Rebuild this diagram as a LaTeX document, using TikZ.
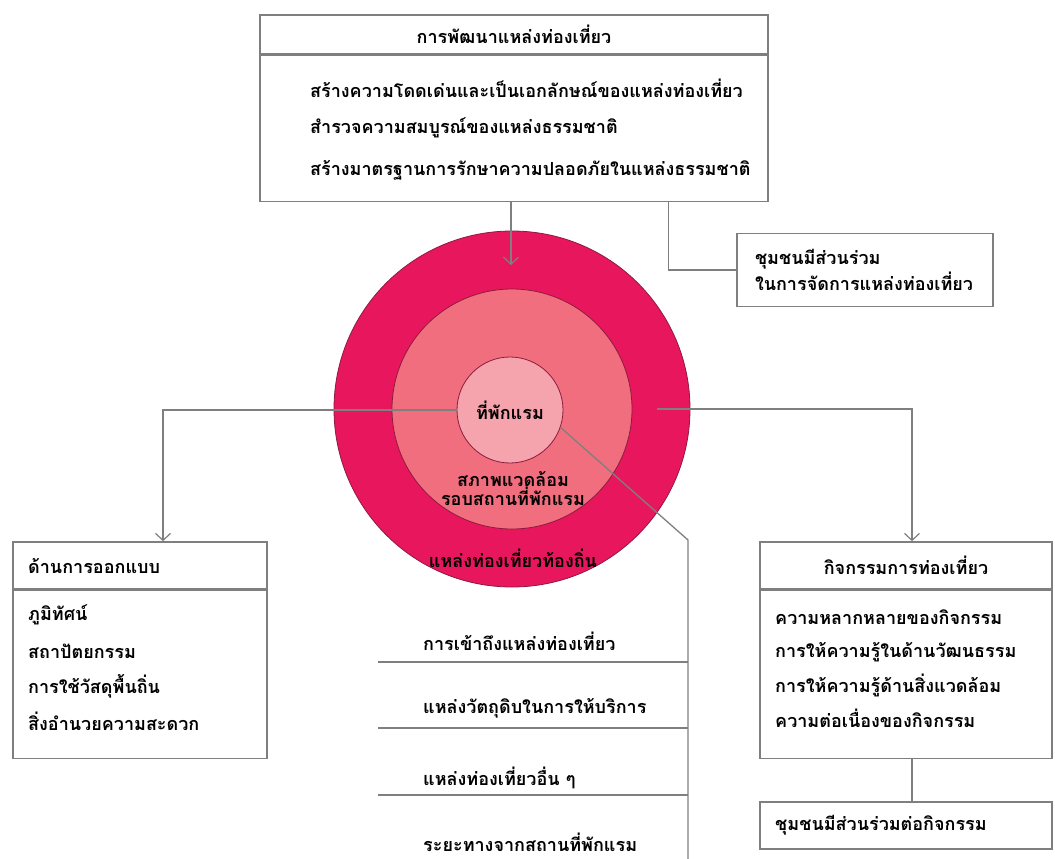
\documentclass[tikz,border=0pt]{standalone}
\usepackage{fontspec}
\newfontfamily\thaifont[Script=Thai]{Loma}
\usetikzlibrary{arrows.meta}

\definecolor{ringout}{HTML}{E8175D}
\definecolor{ringmid}{HTML}{F06E7D}
\definecolor{ringin}{HTML}{F5A3AC}
\definecolor{ringline}{HTML}{8E1A3E}
\definecolor{boxgray}{HTML}{7F7F7F}

\begin{document}
\begin{tikzpicture}[x=1pt, y=-1pt]
\tikzset{ >={Straight Barb[length=7pt, width=15pt, line width=1.2pt]},
  every node/.style={font=\thaifont\bfseries\fontsize{18}{20}\selectfont, inner sep=0pt},
  box/.style={draw=boxgray, line width=1.6pt, rectangle},
  item/.style={anchor=west},
  conn/.style={draw=boxgray, line width=1.3pt},
  ring/.style={circle, draw=ringline, line width=0.8pt},
}

\useasboundingbox (0,0) rectangle (1055,859);

% top box
\node [box, minimum width=508pt, minimum height=39pt] (dev) at (514,34.5) {การพัฒนาแหล่งท่องเที่ยว};
\node [box, minimum width=508pt, minimum height=146pt, anchor=north] (devbody) at (dev.south) {};
\node [item] (dev1) at (310,88)  {สร้างความโดดเด่นและเป็นเอกลักษณ์ของแหล่งท่องเที่ยว};
\node [item] (dev2) at (310,128) {สำรวจความสมบูรณ์ของแหล่งธรรมชาติ};
\node [item] (dev3) at (310,170) {สร้างมาตรฐานการรักษาความปลอดภัยในแหล่งธรรมชาติ};

% community box
\node [box, minimum width=256pt, minimum height=73pt, text width=220pt, align=left,
       font=\thaifont\bfseries\fontsize{18}{26}\selectfont] (comm) at (865,270)
       {ชุมชนมีส่วนร่วม\\ในการจัดการแหล่งท่องเที่ยว};

% rings
\node [ring, fill=ringout, minimum size=356pt] (outer) at (512,409) {};
\node [ring, fill=ringmid, minimum size=240pt] (mid)   at (512,409) {};
\node [ring, fill=ringin,  minimum size=106pt] (inner) at (510,410) {ที่พักแรม};
\node [align=center, font=\thaifont\bfseries\fontsize{18}{19}\selectfont] (midlbl) at (513,489) {สภาพแวดล้อม\\รอบสถานที่พักแรม};
\node (outlbl) at (513,558) {แหล่งท่องเที่ยวท้องถิ่น};

\coordinate (ctip) at (511,265);
\draw [conn, ->] (devbody.south -| ctip) -- (ctip);
\draw [conn] ([xshift=-100pt]devbody.south east) |- (comm.west);

% design box
\node [box, minimum width=254pt, minimum height=47pt] (design) at (140,565.5) {};
\node [item] (designlbl) at (28,566) {ด้านการออกแบบ};
\node [box, minimum width=254pt, minimum height=168pt, anchor=north] (designbody) at (design.south) {};
\node [item] (des1) at (28,615) {ภูมิทัศน์};
\node [item] (des2) at (28,651) {สถาปัตยกรรม};
\node [item] (des3) at (28,686) {การใช้วัสดุพื้นถิ่น};
\node [item] (des4) at (28,721) {สิ่งอำนวยความสะดวก};

% activity box
\node [box, minimum width=292pt, minimum height=47pt] (act) at (906,565.5) {กิจกรรมการท่องเที่ยว};
\node [box, minimum width=292pt, minimum height=168pt, anchor=north] (actbody) at (act.south) {};
\node [item] (act1) at (775,617) {ความหลากหลายของกิจกรรม};
\node [item] (act2) at (775,652) {การให้ความรู้ในด้านวัฒนธรรม};
\node [item] (act3) at (775,685) {การให้ความรู้ด้านสิ่งแวดล้อม};
\node [item] (act4) at (775,718) {ความต่อเนื่องของกิจกรรม};
\node [box, minimum width=292pt, minimum height=47pt] (commact) at (906,825.5) {};
\node [item] (commactlbl) at (775,825) {ชุมชนมีส่วนร่วมต่อกิจกรรม};

\draw [conn, ->] (inner.west) -| ([xshift=23pt]design.north);
\draw [conn, ->] ([xshift=25pt]mid.east) -| ([xshift=6pt]act.north);
\draw [conn] ([xshift=6pt]actbody.south) -- ([xshift=6pt]commact.north);

% list of surroundings
\coordinate (bend) at (688,540);
\coordinate (listend) at (688,859);
\draw [conn] (inner.-19) -- (bend) -- (listend);
\node [item] (near1) at (423,641) {การเข้าถึงแหล่งท่องเที่ยว};
\node [item] (near2) at (423,708) {แหล่งวัตถุดิบในการให้บริการ};
\node [item] (near3) at (423,778) {แหล่งท่องเที่ยวอื่น ๆ};
\node [item] (near4) at (423,842) {ระยะทางจากสถานที่พักแรม};
\foreach \y in {662,728,795}
  \draw [conn] (378,\y) -- (listend |- 0,\y);
\end{tikzpicture}
\end{document}
